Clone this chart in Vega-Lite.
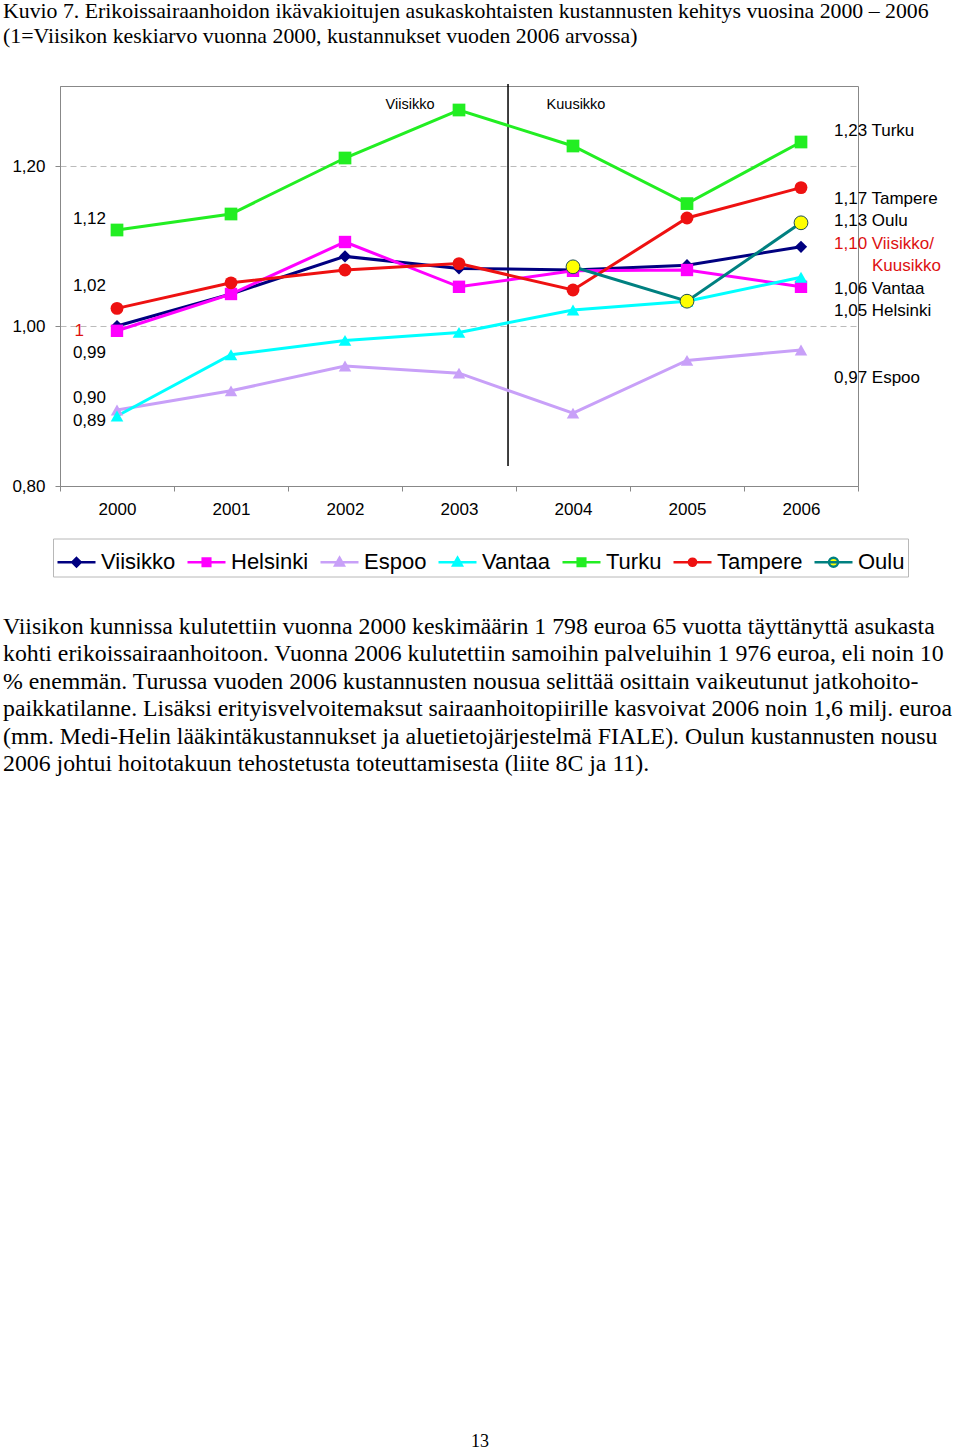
{
  "$schema": "https://vega.github.io/schema/vega-lite/v6.json",
  "background": "white",
  "padding": {"left": 3, "top": 0, "right": 0, "bottom": 0},
  "bounds": "flush",
  "spacing": 141,
  "title": {
    "text": ["Kuvio 7. Erikoissairaanhoidon  ikävakioitujen asukaskohtaisten kustannusten kehitys vuosina 2000 – 2006", "(1=Viisikon keskiarvo vuonna 2000, kustannukset vuoden 2006 arvossa)"],
    "anchor": "start", "frame": "bounds", "font": "Liberation Serif", "fontSize": 21.8, "fontWeight": "normal", "lineHeight": 25, "color": "#000000", "offset": 35
  },
  "resolve": {"legend": {"color": "independent", "fill": "independent", "stroke": "independent", "shape": "independent"}},
  "datasets": {
    "vals": [
      {"series": "Viisikko", "year": "2000", "value": 1.0},
      {"series": "Viisikko", "year": "2001", "value": 1.04},
      {"series": "Viisikko", "year": "2002", "value": 1.087},
      {"series": "Viisikko", "year": "2003", "value": 1.072},
      {"series": "Viisikko", "year": "2004", "value": 1.07},
      {"series": "Viisikko", "year": "2005", "value": 1.076},
      {"series": "Viisikko", "year": "2006", "value": 1.099},
      {"series": "Helsinki", "year": "2000", "value": 0.994},
      {"series": "Helsinki", "year": "2001", "value": 1.04},
      {"series": "Helsinki", "year": "2002", "value": 1.105},
      {"series": "Helsinki", "year": "2003", "value": 1.049},
      {"series": "Helsinki", "year": "2004", "value": 1.069},
      {"series": "Helsinki", "year": "2005", "value": 1.07},
      {"series": "Helsinki", "year": "2006", "value": 1.049},
      {"series": "Espoo", "year": "2000", "value": 0.895},
      {"series": "Espoo", "year": "2001", "value": 0.919},
      {"series": "Espoo", "year": "2002", "value": 0.95},
      {"series": "Espoo", "year": "2003", "value": 0.941},
      {"series": "Espoo", "year": "2004", "value": 0.891},
      {"series": "Espoo", "year": "2005", "value": 0.957},
      {"series": "Espoo", "year": "2006", "value": 0.97},
      {"series": "Vantaa", "year": "2000", "value": 0.8875},
      {"series": "Vantaa", "year": "2001", "value": 0.964},
      {"series": "Vantaa", "year": "2002", "value": 0.982},
      {"series": "Vantaa", "year": "2003", "value": 0.992},
      {"series": "Vantaa", "year": "2004", "value": 1.02},
      {"series": "Vantaa", "year": "2005", "value": 1.031},
      {"series": "Vantaa", "year": "2006", "value": 1.061},
      {"series": "Turku", "year": "2000", "value": 1.12},
      {"series": "Turku", "year": "2001", "value": 1.14},
      {"series": "Turku", "year": "2002", "value": 1.21},
      {"series": "Turku", "year": "2003", "value": 1.27},
      {"series": "Turku", "year": "2004", "value": 1.225},
      {"series": "Turku", "year": "2005", "value": 1.153},
      {"series": "Turku", "year": "2006", "value": 1.23},
      {"series": "Tampere", "year": "2000", "value": 1.022},
      {"series": "Tampere", "year": "2001", "value": 1.054},
      {"series": "Tampere", "year": "2002", "value": 1.07},
      {"series": "Tampere", "year": "2003", "value": 1.078},
      {"series": "Tampere", "year": "2004", "value": 1.045},
      {"series": "Tampere", "year": "2005", "value": 1.135},
      {"series": "Tampere", "year": "2006", "value": 1.173},
      {"series": "Oulu", "year": "2004", "value": 1.074},
      {"series": "Oulu", "year": "2005", "value": 1.031},
      {"series": "Oulu", "year": "2006", "value": 1.129}
    ],
    "notes": [
      {"label": "1,12", "year": "2000", "value": 1.134, "side": "left", "ref": false},
      {"label": "1,02", "year": "2000", "value": 1.05, "side": "left", "ref": false},
      {"label": "0,99", "year": "2000", "value": 0.966, "side": "left", "ref": false},
      {"label": "0,90", "year": "2000", "value": 0.91, "side": "left", "ref": false},
      {"label": "0,89", "year": "2000", "value": 0.881, "side": "left", "ref": false},
      {"label": "1", "year": "2000", "value": 0.994, "side": "left", "ref": true},
      {"label": "1,23 Turku", "year": "2006", "value": 1.244, "side": "right", "ref": false},
      {"label": "1,17 Tampere", "year": "2006", "value": 1.159, "side": "right", "ref": false},
      {"label": "1,13 Oulu", "year": "2006", "value": 1.131, "side": "right", "ref": false},
      {"label": "1,10 Viisikko/", "year": "2006", "value": 1.1025, "side": "right", "ref": true},
      {"label": "Kuusikko", "year": "2006", "value": 1.075, "side": "rightend", "ref": true},
      {"label": "1,06 Vantaa", "year": "2006", "value": 1.046, "side": "right", "ref": false},
      {"label": "1,05 Helsinki", "year": "2006", "value": 1.019, "side": "right", "ref": false},
      {"label": "0,97 Espoo", "year": "2006", "value": 0.935, "side": "right", "ref": false}
    ],
    "groups": [
      {"label": "Viisikko", "year": "2003", "value": 1.276, "shift": "before"},
      {"label": "Kuusikko", "year": "2004", "value": 1.276, "shift": "after"}
    ],
    "marker": [{"year": "2003", "top": 1.3025, "bottom": 0.825}],
    "para": [
      {"line": 1, "kind": "para", "text": "Viisikon kunnissa kulutettiin vuonna 2000 keskimäärin 1 798 euroa 65 vuotta täyttänyttä asukasta"},
      {"line": 2, "kind": "para", "text": "kohti erikoissairaanhoitoon. Vuonna 2006 kulutettiin samoihin palveluihin 1 976 euroa, eli noin 10"},
      {"line": 3, "kind": "para", "text": "% enemmän. Turussa vuoden 2006 kustannusten nousua selittää osittain vaikeutunut jatkohoito-"},
      {"line": 4, "kind": "para", "text": "paikkatilanne. Lisäksi erityisvelvoitemaksut sairaanhoitopiirille kasvoivat 2006 noin 1,6 milj. euroa"},
      {"line": 5, "kind": "para", "text": "(mm. Medi-Helin lääkintäkustannukset ja aluetietojärjestelmä FIALE).  Oulun kustannusten nousu"},
      {"line": 6, "kind": "para", "text": "2006 johtui hoitotakuun tehostetusta toteuttamisesta (liite 8C ja 11)."},
      {"line": 30.75, "kind": "page", "text": "13"}
    ]
  },
  "vconcat": [
    {
      "width": 798,
      "height": 400,
      "view": {"stroke": "#888888", "strokeWidth": 1},
      "encoding": {
        "x": {
          "field": "year", "type": "ordinal", "bandPosition": 0.5,
          "scale": {"type": "band", "domain": ["2000", "2001", "2002", "2003", "2004", "2005", "2006"], "paddingInner": 0, "paddingOuter": 0},
          "axis": {"title": null, "labelAngle": 0, "tickBand": "extent", "grid": false, "domainColor": "#888888", "tickColor": "#888888", "tickSize": 5, "labelFont": "Liberation Sans", "labelFontSize": 17, "labelColor": "#000000", "labelPadding": 10}
        },
        "y": {
          "field": "value", "type": "quantitative",
          "scale": {"domain": [0.8, 1.3], "zero": false, "nice": false},
          "axis": {"title": null, "values": [0.8, 1.0, 1.2], "labelExpr": "replace(format(datum.value, '.2f'), '.', ',')", "grid": true, "gridColor": "#bbbbbb", "gridDash": [6, 4], "domainColor": "#888888", "tickColor": "#888888", "tickSize": 5, "labelFont": "Liberation Sans", "labelFontSize": 17, "labelColor": "#000000", "labelPadding": 10, "minExtent": 48, "maxExtent": 48}
        }
      },
      "layer": [
        {
          "data": {"name": "marker"},
          "mark": {"type": "rule", "color": "#000000", "strokeWidth": 1.5, "clip": false},
          "encoding": {
            "x": {"field": "year", "type": "ordinal", "bandPosition": 0.93},
            "y": {"field": "top", "type": "quantitative"},
            "y2": {"field": "bottom"}
          }
        },
        {
          "data": {"name": "vals"},
          "mark": {"type": "line", "strokeWidth": 3},
          "encoding": {
            "color": {
              "field": "series", "type": "nominal", "legend": null,
              "scale": {"domain": ["Oulu", "Tampere", "Turku", "Vantaa", "Espoo", "Helsinki", "Viisikko"], "range": ["#008080", "#ee1111", "#22ee22", "#00ffff", "#c8a0f8", "#ff00ff", "#000080"]}
            }
          }
        },
        {
          "data": {"name": "vals"},
          "transform": [{"filter": "datum.series === 'Viisikko'"}],
          "mark": {"type": "point", "shape": "diamond", "filled": true, "opacity": 1},
          "encoding": {
            "color": {"field": "series", "type": "nominal", "legend": null},
            "size": {"field": "series", "type": "nominal", "legend": null,
              "scale": {"domain": ["Viisikko", "Helsinki", "Espoo", "Vantaa", "Turku", "Tampere"], "range": [150, 165, 170, 200, 200, 115]}}
          }
        },
        {
          "data": {"name": "vals"},
          "transform": [{"filter": "datum.series === 'Helsinki' || datum.series === 'Turku'"}],
          "mark": {"type": "point", "shape": "square", "filled": true, "opacity": 1},
          "encoding": {
            "color": {"field": "series", "type": "nominal", "legend": null},
            "size": {"field": "series", "type": "nominal", "legend": null}
          }
        },
        {
          "data": {"name": "vals"},
          "transform": [{"filter": "datum.series === 'Espoo' || datum.series === 'Vantaa'"}],
          "mark": {"type": "point", "shape": "triangle-up", "filled": true, "opacity": 1},
          "encoding": {
            "color": {"field": "series", "type": "nominal", "legend": null},
            "size": {"field": "series", "type": "nominal", "legend": null}
          }
        },
        {
          "data": {"name": "vals"},
          "transform": [{"filter": "datum.series === 'Tampere'"}],
          "mark": {"type": "point", "shape": "circle", "filled": true, "opacity": 1},
          "encoding": {
            "color": {"field": "series", "type": "nominal", "legend": null},
            "size": {"field": "series", "type": "nominal", "legend": null}
          }
        },
        {
          "data": {"name": "vals"},
          "transform": [{"filter": "datum.series === 'Oulu'"}],
          "mark": {"type": "point", "shape": "circle", "filled": true, "fill": "#ffff00", "stroke": "#1f4f4f", "strokeWidth": 1, "size": 190, "opacity": 1},
          "encoding": {}
        },
        {
          "data": {"name": "vals"},
          "transform": [{"filter": "datum.series === 'none'"}],
          "mark": {"type": "point", "filled": true, "opacity": 1, "strokeWidth": 2.5},
          "encoding": {
            "fill": {
              "field": "series", "type": "nominal",
              "scale": {"domain": ["Viisikko", "Helsinki", "Espoo", "Vantaa", "Turku", "Tampere", "Oulu"], "range": ["#000080", "#ff00ff", "#c8a0f8", "#00ffff", "#22ee22", "#ee1111", "#ffff00"]},
              "legend": {
                "title": null, "orient": "none", "legendX": -7, "legendY": 452.5, "direction": "horizontal", "columns": 7,
                "symbolSize": 1444, "symbolStrokeWidth": 2.5, "symbolOpacity": 1,
                "labelFont": "Liberation Sans", "labelFontSize": 22, "labelColor": "#000000", "labelOffset": 4, "labelLimit": 0,
                "columnPadding": 6, "padding": 3, "strokeColor": "#b8b8b8", "fillColor": "#ffffff"
              }
            },
            "stroke": {
              "field": "series", "type": "nominal",
              "scale": {"domain": ["Viisikko", "Helsinki", "Espoo", "Vantaa", "Turku", "Tampere", "Oulu"], "range": ["#000080", "#ff00ff", "#c8a0f8", "#00ffff", "#22ee22", "#ee1111", "#008080"]},
              "legend": {
                "title": null, "orient": "none", "legendX": -7, "legendY": 452.5, "direction": "horizontal", "columns": 7,
                "symbolSize": 1444, "symbolStrokeWidth": 2.5, "symbolOpacity": 1,
                "labelFont": "Liberation Sans", "labelFontSize": 22, "labelColor": "#000000", "labelOffset": 4, "labelLimit": 0,
                "columnPadding": 6, "padding": 3, "strokeColor": "#b8b8b8", "fillColor": "#ffffff"
              }
            },
            "shape": {
              "field": "series", "type": "nominal",
              "scale": {"domain": ["Viisikko", "Helsinki", "Espoo", "Vantaa", "Turku", "Tampere", "Oulu"], "range": [
                "M-1,0H1M0,-0.22L0.22,0L0,0.22L-0.22,0Z",
                "M-1,0H1M-0.2,-0.2H0.2V0.2H-0.2Z",
                "M-1,0H1M0,-0.24L0.23,0.17H-0.23Z",
                "M-1,0H1M0,-0.24L0.23,0.17H-0.23Z",
                "M-1,0H1M-0.2,-0.2H0.2V0.2H-0.2Z",
                "M-1,0H1M-0.19,0A0.19,0.19,0,1,0,0.19,0A0.19,0.19,0,1,0,-0.19,0Z",
                "M-1,0H1M-0.24,0A0.24,0.24,0,1,0,0.24,0A0.24,0.24,0,1,0,-0.24,0Z"
              ]},
              "legend": {
                "title": null, "orient": "none", "legendX": -7, "legendY": 452.5, "direction": "horizontal", "columns": 7,
                "symbolSize": 1444, "symbolStrokeWidth": 2.5, "symbolOpacity": 1,
                "labelFont": "Liberation Sans", "labelFontSize": 22, "labelColor": "#000000", "labelOffset": 4, "labelLimit": 0,
                "columnPadding": 6, "padding": 3, "strokeColor": "#b8b8b8", "fillColor": "#ffffff"
              }
            }
          }
        },
        {
          "data": {"name": "notes"},
          "transform": [{"filter": "datum.side === 'left' && !datum.ref"}],
          "mark": {"type": "text", "align": "right", "baseline": "middle", "dx": -11, "font": "Liberation Sans", "fontSize": 17, "color": "#000000"},
          "encoding": {"text": {"field": "label"}}
        },
        {
          "data": {"name": "notes"},
          "transform": [{"filter": "datum.side === 'left' && datum.ref"}],
          "mark": {"type": "text", "align": "right", "baseline": "middle", "dx": -33, "font": "Liberation Sans", "fontSize": 17, "color": "#dd1111"},
          "encoding": {"text": {"field": "label"}}
        },
        {
          "data": {"name": "notes"},
          "transform": [{"filter": "datum.side === 'right' && !datum.ref"}],
          "mark": {"type": "text", "align": "left", "baseline": "middle", "dx": 33, "font": "Liberation Sans", "fontSize": 17, "color": "#000000"},
          "encoding": {"text": {"field": "label"}}
        },
        {
          "data": {"name": "notes"},
          "transform": [{"filter": "datum.side === 'right' && datum.ref"}],
          "mark": {"type": "text", "align": "left", "baseline": "middle", "dx": 33, "font": "Liberation Sans", "fontSize": 17, "color": "#dd1111"},
          "encoding": {"text": {"field": "label"}}
        },
        {
          "data": {"name": "notes"},
          "transform": [{"filter": "datum.side === 'rightend'"}],
          "mark": {"type": "text", "align": "right", "baseline": "middle", "dx": 140, "font": "Liberation Sans", "fontSize": 17, "color": "#dd1111"},
          "encoding": {"text": {"field": "label"}}
        },
        {
          "data": {"name": "groups"},
          "transform": [{"filter": "datum.shift === 'before'"}],
          "mark": {"type": "text", "align": "center", "baseline": "middle", "dx": -49, "font": "Liberation Sans", "fontSize": 14.5, "color": "#000000"},
          "encoding": {"text": {"field": "label"}}
        },
        {
          "data": {"name": "groups"},
          "transform": [{"filter": "datum.shift === 'after'"}],
          "mark": {"type": "text", "align": "center", "baseline": "middle", "dx": 3, "font": "Liberation Sans", "fontSize": 14.5, "color": "#000000"},
          "encoding": {"text": {"field": "label"}}
        }
      ]
    },
    {
      "width": 798,
      "height": 816,
      "view": {"stroke": null},
      "data": {"name": "para"},
      "encoding": {
        "y": {"field": "line", "type": "quantitative", "scale": {"domain": [1, 30.8], "reverse": true, "zero": false, "nice": false}, "axis": null},
        "text": {"field": "text"}
      },
      "layer": [
        {
          "transform": [{"filter": "datum.kind === 'para'"}],
          "mark": {"type": "text", "align": "left", "baseline": "middle", "font": "Liberation Serif", "fontSize": 23.8, "color": "#000000"},
          "encoding": {"x": {"value": -57}}
        },
        {
          "transform": [{"filter": "datum.kind === 'page'"}],
          "mark": {"type": "text", "align": "center", "baseline": "middle", "font": "Liberation Serif", "fontSize": 18, "color": "#000000"},
          "encoding": {"x": {"value": 420}}
        }
      ]
    }
  ]
}
